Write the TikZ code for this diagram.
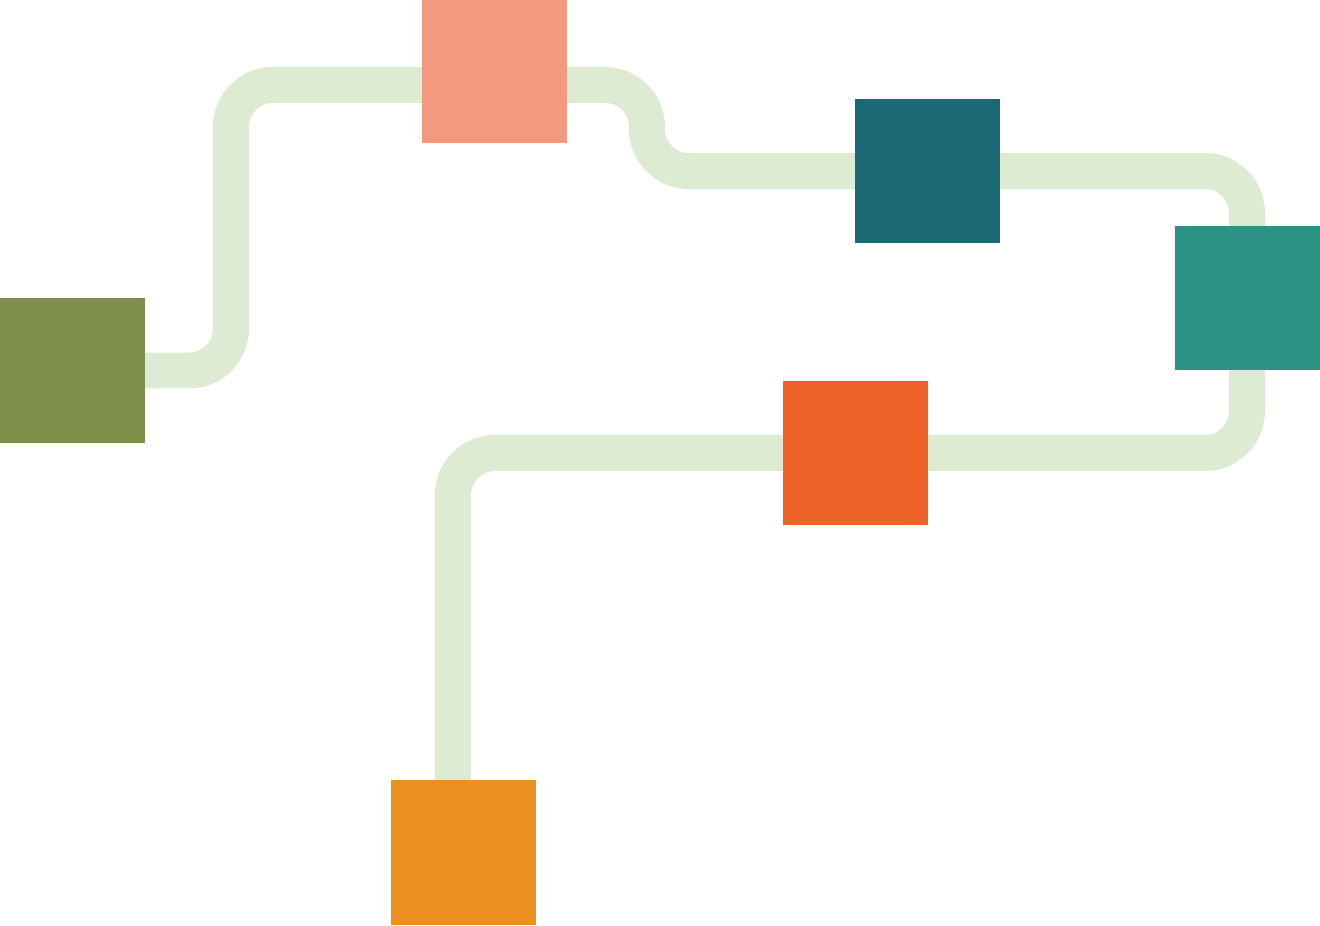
\documentclass[tikz,border=0pt]{standalone}
\usetikzlibrary{backgrounds}

\definecolor{olive}{HTML}{7F8E4B}
\definecolor{salmon}{HTML}{F4987F}
\definecolor{petrol}{HTML}{1A6975}
\definecolor{teal}{HTML}{2C9384}
\definecolor{blood}{HTML}{EC6126}
\definecolor{amber}{HTML}{EC9022}
\definecolor{track}{HTML}{DCEBD2}

\begin{document}
\begin{tikzpicture}[x=0.02cm, y=-0.02cm,
		block/.style={minimum size=2.9cm, inner sep=0pt, outer sep=0pt},
		route/.style={line width=0.72cm, track, rounded corners=0.84cm}]
		\useasboundingbox (0, 0) rectangle (1320, 926);
		\node[block, fill=olive] (o) at (72.5, 370.5) {};
		\node[block, fill=salmon] (s) at (494.5, 70.5) {};
		\node[block, fill=petrol] (p) at (927.5, 171) {};
		\node[block, fill=teal] (t) at (1247.5, 298) {};
		\node[block, fill=blood] (r) at (855.5, 453) {};
		\node[block, fill=amber] (a) at (463.5, 852.5) {};
		\coordinate (end) at (453, 852.5);

		\begin{scope}[on background layer]
		\draw[route] (o) -- (231, 370.5) -- (231, 85) -- (647, 85) -- (647, 171)
			-- (1247, 171) -- (1247, 453) -- (453, 453) -- (end);
		\end{scope}
\end{tikzpicture}
\end{document}
